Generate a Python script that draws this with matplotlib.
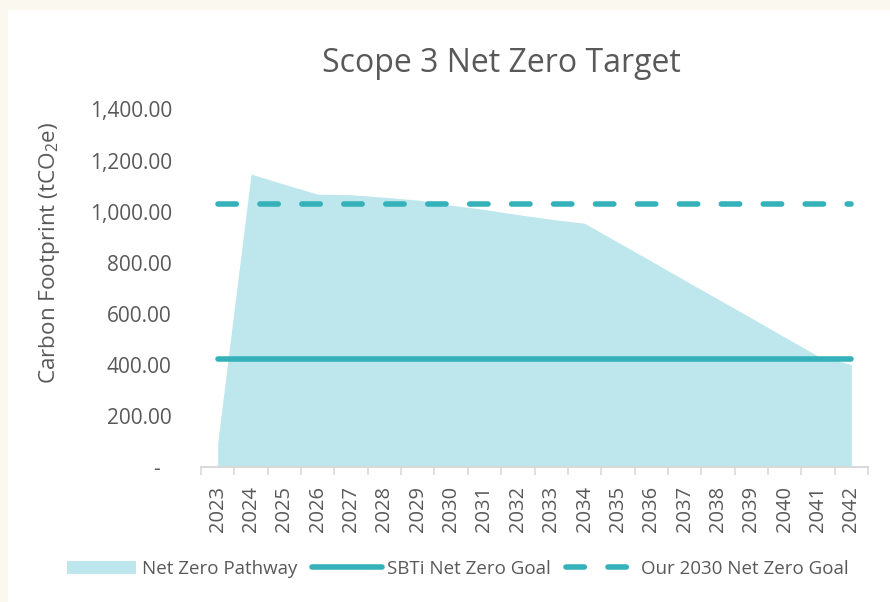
import matplotlib
matplotlib.use("Agg")
import matplotlib.pyplot as plt
from matplotlib.patches import Rectangle, Patch
from matplotlib.lines import Line2D
from matplotlib.ticker import FuncFormatter, FixedLocator

plt.rcParams['font.family'] = ['Open Sans', 'DejaVu Sans']
plt.rcParams['mathtext.fontset'] = 'custom'
plt.rcParams['mathtext.rm'] = 'Open Sans'
plt.rcParams['mathtext.it'] = 'Open Sans'

# data
years = [str(y) for y in range(2023, 2043)]
pathway = [93, 1147, 1107, 1068, 1066, 1056, 1045, 1025, 1008, 988,
           970, 954, 880, 806, 731, 657, 583, 508, 434, 401]
sbti_goal = [424] * len(years)
our_goal = [1028] * len(years)

text_col = "#595959"
area_col = "#bde7ec"
line_col = "#35b1b9"

fig = plt.figure(figsize=(8.9, 6.02), dpi=100)
fig.patch.set_facecolor("white")
# cream frame strips at top and left
fig.patches.append(Rectangle((0, 1 - 10 / 602), 1, 10 / 602, transform=fig.transFigure,
                             facecolor="#fbf8f0", edgecolor="none", zorder=-1))
fig.patches.append(Rectangle((0, 0), 8 / 890, 1, transform=fig.transFigure,
                             facecolor="#fbf8f0", edgecolor="none", zorder=-1))

ax = fig.add_axes([201 / 890, 1 - 466.7 / 602, 667 / 890, (466.7 - 109.5) / 602])
x = list(range(len(years)))

ax.fill_between(x, pathway, 0, color=area_col, linewidth=0, label="Net Zero Pathway")
ax.plot(x, sbti_goal, color=line_col, lw=4, solid_capstyle="round", label="SBTi Net Zero Goal")
ax.plot(x, our_goal, color=line_col, lw=4, dashes=(3.3, 4.25), dash_capstyle="round",
        label="Our 2030 Net Zero Goal")

ax.set_xlim(-0.5, len(years) - 0.5)
ax.set_ylim(0, 1400)
ax.set_yticks(range(0, 1401, 200))
ax.yaxis.set_major_formatter(FuncFormatter(lambda v, p: "-  " if v == 0 else f"{v:,.2f}"))
ax.tick_params(axis="y", length=0, pad=21, labelsize=15, labelcolor=text_col)

ax.set_xticks(x)
ax.set_xticklabels(years, rotation=90)
ax.xaxis.set_minor_locator(FixedLocator([i - 0.5 for i in range(len(years) + 1)]))
ax.tick_params(axis="x", which="major", length=0, pad=14, labelsize=14.5, labelcolor=text_col)
ax.tick_params(axis="x", which="minor", length=6, width=1.2, color="#d9d9d9")

for s in ["top", "right", "left"]:
    ax.spines[s].set_visible(False)
ax.spines["bottom"].set_color("#d9d9d9")
ax.spines["bottom"].set_linewidth(1.5)

ax.set_ylabel("Carbon Footprint (tCO$_2$e)", fontsize=16.2, color=text_col)
ax.yaxis.set_label_coords(-0.209, 0.598)
fig.text(501 / 890, 1 - 64 / 602, "Scope 3 Net Zero Target", ha="center", va="center",
         fontsize=23, color=text_col)

handles = [
    Patch(facecolor=area_col, edgecolor="none"),
    Line2D([], [], color=line_col, lw=4, solid_capstyle="round"),
    Line2D([], [], color=line_col, lw=4, dashes=(3.3, 4.25), dash_capstyle="round"),
]
labels = ["Net Zero Pathway", "SBTi Net Zero Goal", "Our 2030 Net Zero Goal"]
fig.legend(handles, labels, loc="center", bbox_to_anchor=(458 / 890, 1 - 569 / 602), ncol=3,
           frameon=False, fontsize=13.5, labelcolor=text_col, handlelength=3.7,
           handletextpad=0.3, columnspacing=0.8, handleheight=0.7)

fig.savefig("out.png", dpi=100, facecolor=fig.get_facecolor())
